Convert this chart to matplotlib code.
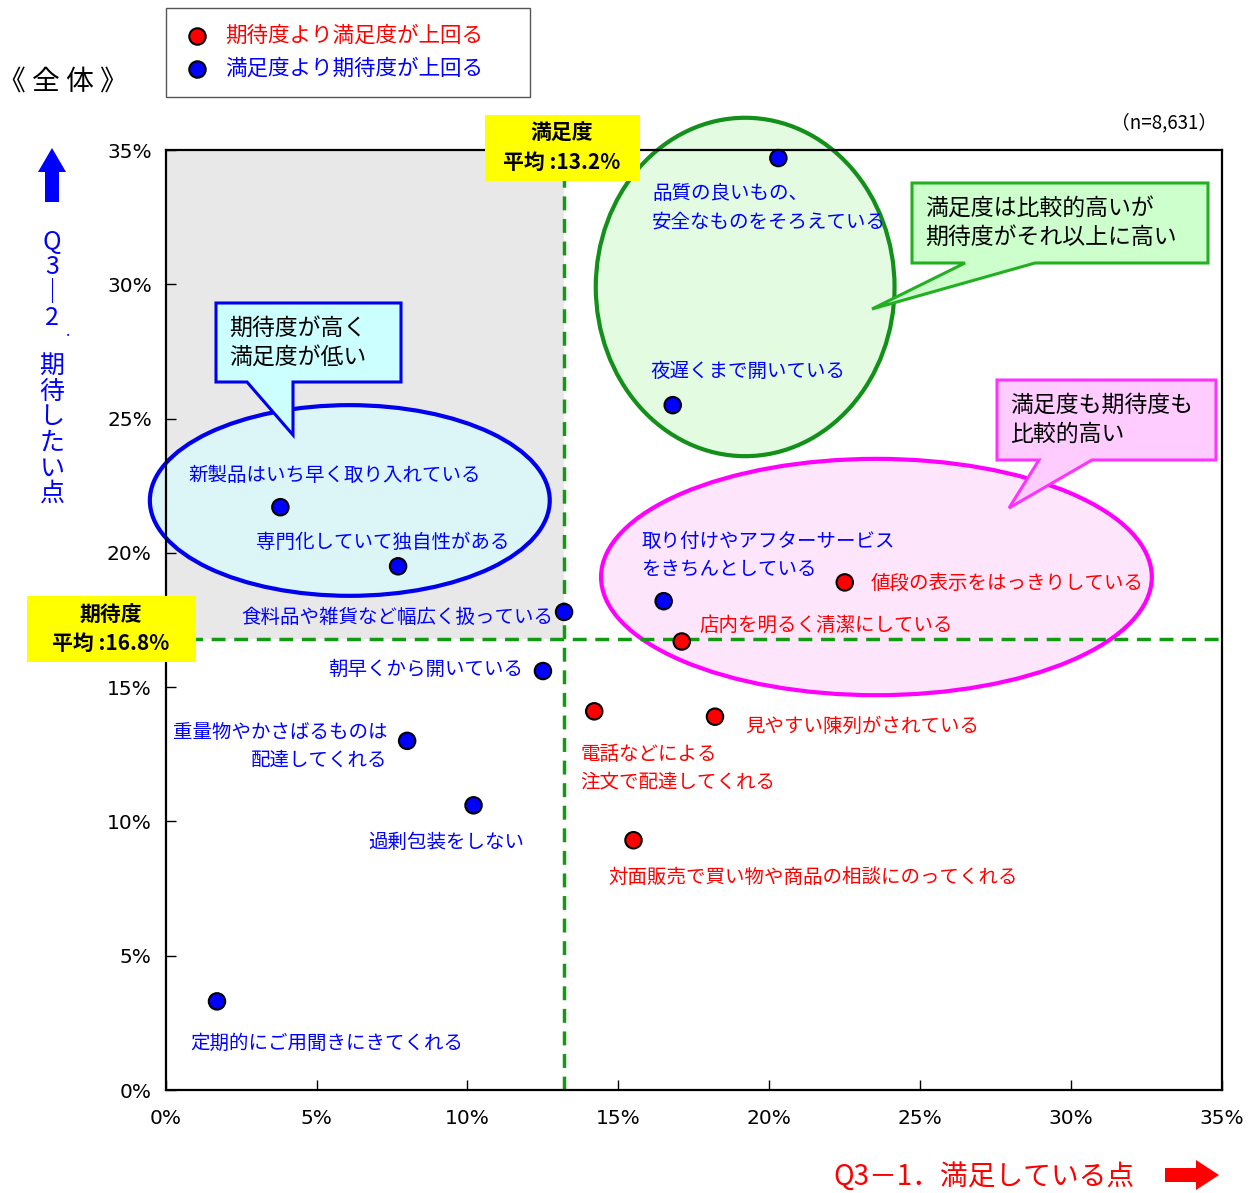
import matplotlib.pyplot as plt
from matplotlib.patches import Ellipse, Polygon, Rectangle

plt.rcParams['font.family'] = ['Noto Sans CJK JP', 'DejaVu Sans']

# 項目ごとの値（%）
items = [
    "品質の良いもの、\n安全なものをそろえている",
    "夜遅くまで開いている",
    "新製品はいち早く取り入れている",
    "専門化していて独自性がある",
    "食料品や雑貨など幅広く扱っている",
    "取り付けやアフターサービス\nをきちんとしている",
    "値段の表示をはっきりしている",
    "店内を明るく清潔にしている",
    "朝早くから開いている",
    "電話などによる\n注文で配達してくれる",
    "見やすい陳列がされている",
    "重量物やかさばるものは\n配達してくれる",
    "過剰包装をしない",
    "対面販売で買い物や商品の相談にのってくれる",
    "定期的にご用聞きにきてくれる",
]
manzoku = [20.3, 16.8, 3.8, 7.7, 13.2, 16.5, 22.5, 17.1, 12.5, 14.2, 18.2, 8.0, 10.2, 15.5, 1.7]
kitai = [34.7, 25.5, 21.7, 19.5, 17.8, 18.2, 18.9, 16.7, 15.6, 14.1, 13.9, 13.0, 10.6, 9.3, 3.3]
avg_manzoku = 13.2
avg_kitai = 16.8
ticks = [0, 5, 10, 15, 20, 25, 30, 35]

# ラベル位置（点からのずれ, pt）と揃え
offsets = [(-91, -36), (-16, 24), (-66, 23), (-102, 17), (-8, -4), (-16, 33), (19, -1),
           (13, 12), (-14, 1), (-10, -41), (22, -7), (-14, -4), (-76, -27), (-18, -27), (-19, -30)]
aligns = ["left", "left", "left", "left", "right", "left", "left",
          "left", "right", "left", "left", "right", "left", "left", "left"]

W, H = 1257, 1193
fig = plt.figure(figsize=(W / 100, H / 100), dpi=100)
ax = fig.add_axes([165.7 / W, 1 - 1090 / H, (1222 - 165.7) / W, (1090 - 150) / H])
ax.set_xlim(0, 35)
ax.set_ylim(0, 35)

# 左上の網掛け
ax.add_patch(Rectangle((0, avg_kitai), avg_manzoku, 35 - avg_kitai,
                       facecolor="#e8e8e8", edgecolor="none", zorder=0))

# 楕円
ax.add_patch(Ellipse((19.2, 29.9), 9.9, 12.6, facecolor="#e3fbe1", edgecolor="#13901a",
                     lw=3, zorder=1, clip_on=False))
ax.add_patch(Ellipse((6.1, 21.95), 13.25, 7.1, facecolor="#dcf6f8", edgecolor="#0000ee",
                     lw=3, zorder=1, clip_on=False))
ax.add_patch(Ellipse((23.55, 19.1), 18.25, 8.8, facecolor="#fde6fc", edgecolor="#ff00ff",
                     lw=3, zorder=1, clip_on=False))

# 平均線
ax.axvline(avg_manzoku, color="#129a12", lw=2.5, ls=(0, (4, 2.5)), zorder=2)
ax.axhline(avg_kitai, color="#129a12", lw=2.5, ls=(0, (4, 2.5)), zorder=2)

colors = ["#ff0000" if m > k else "#0000ff" for m, k in zip(manzoku, kitai)]
ax.scatter(manzoku, kitai, s=140, c=colors, edgecolors="black", linewidths=1.5,
           zorder=4, clip_on=False)

for name, x, y, c, off, ha in zip(items, manzoku, kitai, colors, offsets, aligns):
    ax.annotate(name, (x, y), xytext=off, textcoords="offset points", ha=ha, va="center",
                multialignment=ha, color=c, fontsize=14, linespacing=1.45, zorder=5)

ax.set_xticks(ticks)
ax.set_yticks(ticks)
ax.set_xticklabels([f"{t}%" for t in ticks], fontsize=14.5, family="DejaVu Sans")
ax.set_yticklabels([f"{t}%" for t in ticks], fontsize=14.5, family="DejaVu Sans")
ax.tick_params(direction="in", length=7, width=1, pad=14)
ax.tick_params(axis="y", pad=10)
for sp in ax.spines.values():
    sp.set_linewidth(1.6)

# 飾り用（ピクセル座標）
ov = fig.add_axes([0, 0, 1, 1])
ov.set_xlim(0, W)
ov.set_ylim(H, 0)
ov.axis("off")
ov.patch.set_alpha(0)

# 凡例
ov.add_patch(Rectangle((166, 8), 364, 89, facecolor="white", edgecolor="#555555", lw=1))
ov.scatter([197], [36], s=140, c="#ff0000", edgecolors="black", linewidths=1.5)
ov.scatter([197], [69], s=140, c="#0000ff", edgecolors="black", linewidths=1.5)
ov.text(225, 36, "期待度より満足度が上回る", color="#ff0000", fontsize=15.5, va="center")
ov.text(225, 69, "満足度より期待度が上回る", color="#0000ff", fontsize=15.5, va="center")

ov.text(-2, 82, "《 全 体 》", fontsize=20, va="center")
ov.text(1217, 123, "（n=8,631）", fontsize=13.5, va="center", ha="right")

# 平均のラベル
ov.add_patch(Rectangle((485, 115), 155, 66, facecolor="#ffff00", edgecolor="none"))
ov.text(562, 148, "満足度\n平均 :13.2%", fontsize=15, fontweight="bold", ha="center",
        va="center", linespacing=1.45)
ov.add_patch(Rectangle((27, 596), 169, 66, facecolor="#ffff00", edgecolor="none"))
ov.text(111, 629, "期待度\n平均 :16.8%", fontsize=15, fontweight="bold", ha="center",
        va="center", linespacing=1.45)


def callout(x0, y0, x1, y1, t0, t1, tip, fc, ec, text):
    pts = [(x0, y0), (x1, y0), (x1, y1), (t1, y1), tip, (t0, y1), (x0, y1)]
    ov.add_patch(Polygon(pts, closed=True, facecolor=fc, edgecolor=ec, lw=2.2, zorder=3))
    ov.text(x0 + 13, (y0 + y1) / 2, text, fontsize=16.5, va="center", linespacing=1.35, zorder=4)


callout(912, 183, 1208, 263, 965, 1035, (872, 309), "#ccffcc", "#22b022",
        "満足度は比較的高いが\n期待度がそれ以上に高い")
callout(216, 303, 401, 382, 247, 293, (293, 435), "#ccffff", "#0000ee",
        "期待度が高く\n満足度が低い")
callout(997, 380, 1216, 460, 1039, 1092, (1009, 508), "#ffccff", "#ff33ff",
        "満足度も期待度も\n比較的高い")

# 軸の説明
ov.add_patch(Polygon([(45, 202), (45, 172), (38, 172), (52, 148), (66, 172), (59, 172), (59, 202)],
                     closed=True, facecolor="#0000ff", edgecolor="none"))
ov.text(52, 280, "Q\n3\n｜\n2", color="#0000ff", fontsize=18,
        ha="center", va="center", linespacing=0.98)
ov.text(68, 332, ".", color="#0000ff", fontsize=11, ha="center", va="center")
ov.text(52, 430, "期\n待\nし\nた\nい\n点", color="#0000ff", fontsize=18,
        ha="center", va="center", linespacing=0.98)
ov.text(833, 1177, "Q3－1．満足している点", color="#ff0000", fontsize=20, va="center")
ov.add_patch(Polygon([(1165, 1168), (1196, 1168), (1196, 1160), (1219, 1175), (1196, 1190),
                      (1196, 1182), (1165, 1182)], closed=True, facecolor="#ff0000", edgecolor="none"))

fig.savefig("out.png", dpi=100)
